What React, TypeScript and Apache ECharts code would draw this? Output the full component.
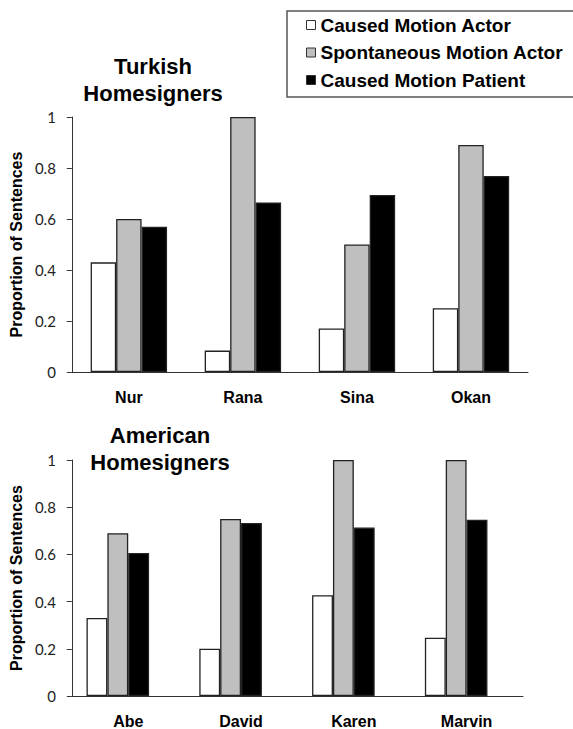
import React, { useEffect, useRef } from "react";
import * as echarts from "echarts";

const seriesNames = ["Caused Motion Actor", "Spontaneous Motion Actor", "Caused Motion Patient"];
const turkishNames = ["Nur", "Rana", "Sina", "Okan"];
const turkishCausedActor = [0.43, 0.084, 0.171, 0.25];
const turkishSpontActor = [0.6, 1.0, 0.5, 0.89];
const turkishCausedPatient = [0.57, 0.665, 0.694, 0.769];
const americanNames = ["Abe", "David", "Karen", "Marvin"];
const americanCausedActor = [0.331, 0.2, 0.427, 0.247];
const americanSpontActor = [0.69, 0.75, 1.0, 1.0];
const americanCausedPatient = [0.606, 0.733, 0.714, 0.747];
const americanEmptySlot = [null, null, null, null];
const yTicks = { min: 0, max: 1, interval: 0.2 };

const fills = ["#ffffff", "#bfbfbf", "#000000"];

export default function App() {
  const ref = useRef<HTMLDivElement>(null);
  useEffect(() => {
    if (!ref.current) return;
    const chart = echarts.init(ref.current, null, { renderer: "svg" });
    const boldFont = "Liberation Sans";
    const mkBar = (name: string, data: any[], idx: number, axis: number, gap: string) => ({
      type: "bar",
      name,
      data,
      xAxisIndex: axis,
      yAxisIndex: axis,
      barGap: "0%",
      barCategoryGap: gap,
      itemStyle: { color: fills[idx], borderColor: "#222", borderWidth: 1.3 },
    });
    const xAxisBase = (gridIndex: number, data: string[]) => ({
      type: "category",
      gridIndex,
      data,
      axisLine: { lineStyle: { color: "#333", width: 1 } },
      axisTick: { show: false },
      axisLabel: {
        margin: 17,
        fontFamily: boldFont,
        fontWeight: "bold",
        fontSize: 16,
        color: "#000",
      },
    });
    const yAxisBase = (gridIndex: number) => ({
      type: "value",
      gridIndex,
      min: yTicks.min,
      max: yTicks.max,
      interval: yTicks.interval,
      name: "Proportion of Sentences",
      nameLocation: "middle",
      nameGap: 43,
      nameTextStyle: { fontFamily: boldFont, fontWeight: "bold", fontSize: 16, color: "#000" },
      axisLine: { show: true, lineStyle: { color: "#333", width: 1 } },
      axisTick: { show: true, length: 5, lineStyle: { color: "#333" } },
      splitLine: { show: false },
      axisLabel: { margin: 16, fontFamily: "Lato", fontSize: 15, color: "#222" },
    });
    chart.setOption({
      animation: false,
      backgroundColor: "#fff",
      grid: [
        { left: 70, top: 117, width: 458, height: 255, containLabel: false },
        { left: 68, top: 460, width: 455, height: 237, containLabel: false },
      ],
      legend: {
        data: seriesNames,
        orient: "vertical",
        left: 287,
        top: 11,
        icon: "rect",
        itemWidth: 9,
        itemHeight: 9,
        itemGap: 7.5,
        padding: [4, 0, 6, 19],
        selectedMode: false,
        itemStyle: { borderColor: "#333", borderWidth: 1 },
        textStyle: { fontFamily: boldFont, fontWeight: "bold", fontSize: 19, color: "#000", lineHeight: 20 },
      },
      xAxis: [xAxisBase(0, turkishNames), xAxisBase(1, americanNames)],
      yAxis: [yAxisBase(0), yAxisBase(1)],
      series: [
        mkBar(seriesNames[0], turkishCausedActor, 0, 0, "33%"),
        mkBar(seriesNames[1], turkishSpontActor, 1, 0, "33%"),
        mkBar(seriesNames[2], turkishCausedPatient, 2, 0, "33%"),
        mkBar(seriesNames[0], americanCausedActor, 0, 1, "26%"),
        mkBar(seriesNames[1], americanSpontActor, 1, 1, "26%"),
        mkBar(seriesNames[2], americanCausedPatient, 2, 1, "26%"),
        mkBar("empty", americanEmptySlot, 0, 1, "26%"),
      ],
      graphic: [
        {
          type: "polyline",
          shape: { points: [[640, 11], [287, 11], [287, 97], [640, 97]] },
          style: { fill: null, stroke: "#555", lineWidth: 1.5 },
          silent: true,
        },
        {
          type: "text",
          x: 153,
          y: 79.5,
          style: {
            text: "Turkish\nHomesigners",
            fontFamily: boldFont,
            fontWeight: "bold",
            fontSize: 22,
            lineHeight: 27,
            textAlign: "center",
            textVerticalAlign: "middle",
            fill: "#000",
          },
        },
        {
          type: "text",
          x: 160,
          y: 448.5,
          style: {
            text: "American\nHomesigners",
            fontFamily: boldFont,
            fontWeight: "bold",
            fontSize: 22,
            lineHeight: 27,
            textAlign: "center",
            textVerticalAlign: "middle",
            fill: "#000",
          },
        },
      ],
    });
    return () => chart.dispose();
  }, []);
  return <div ref={ref} style={{ width: 573, height: 729, position: "absolute", left: 0, top: 0 }} />;
}
